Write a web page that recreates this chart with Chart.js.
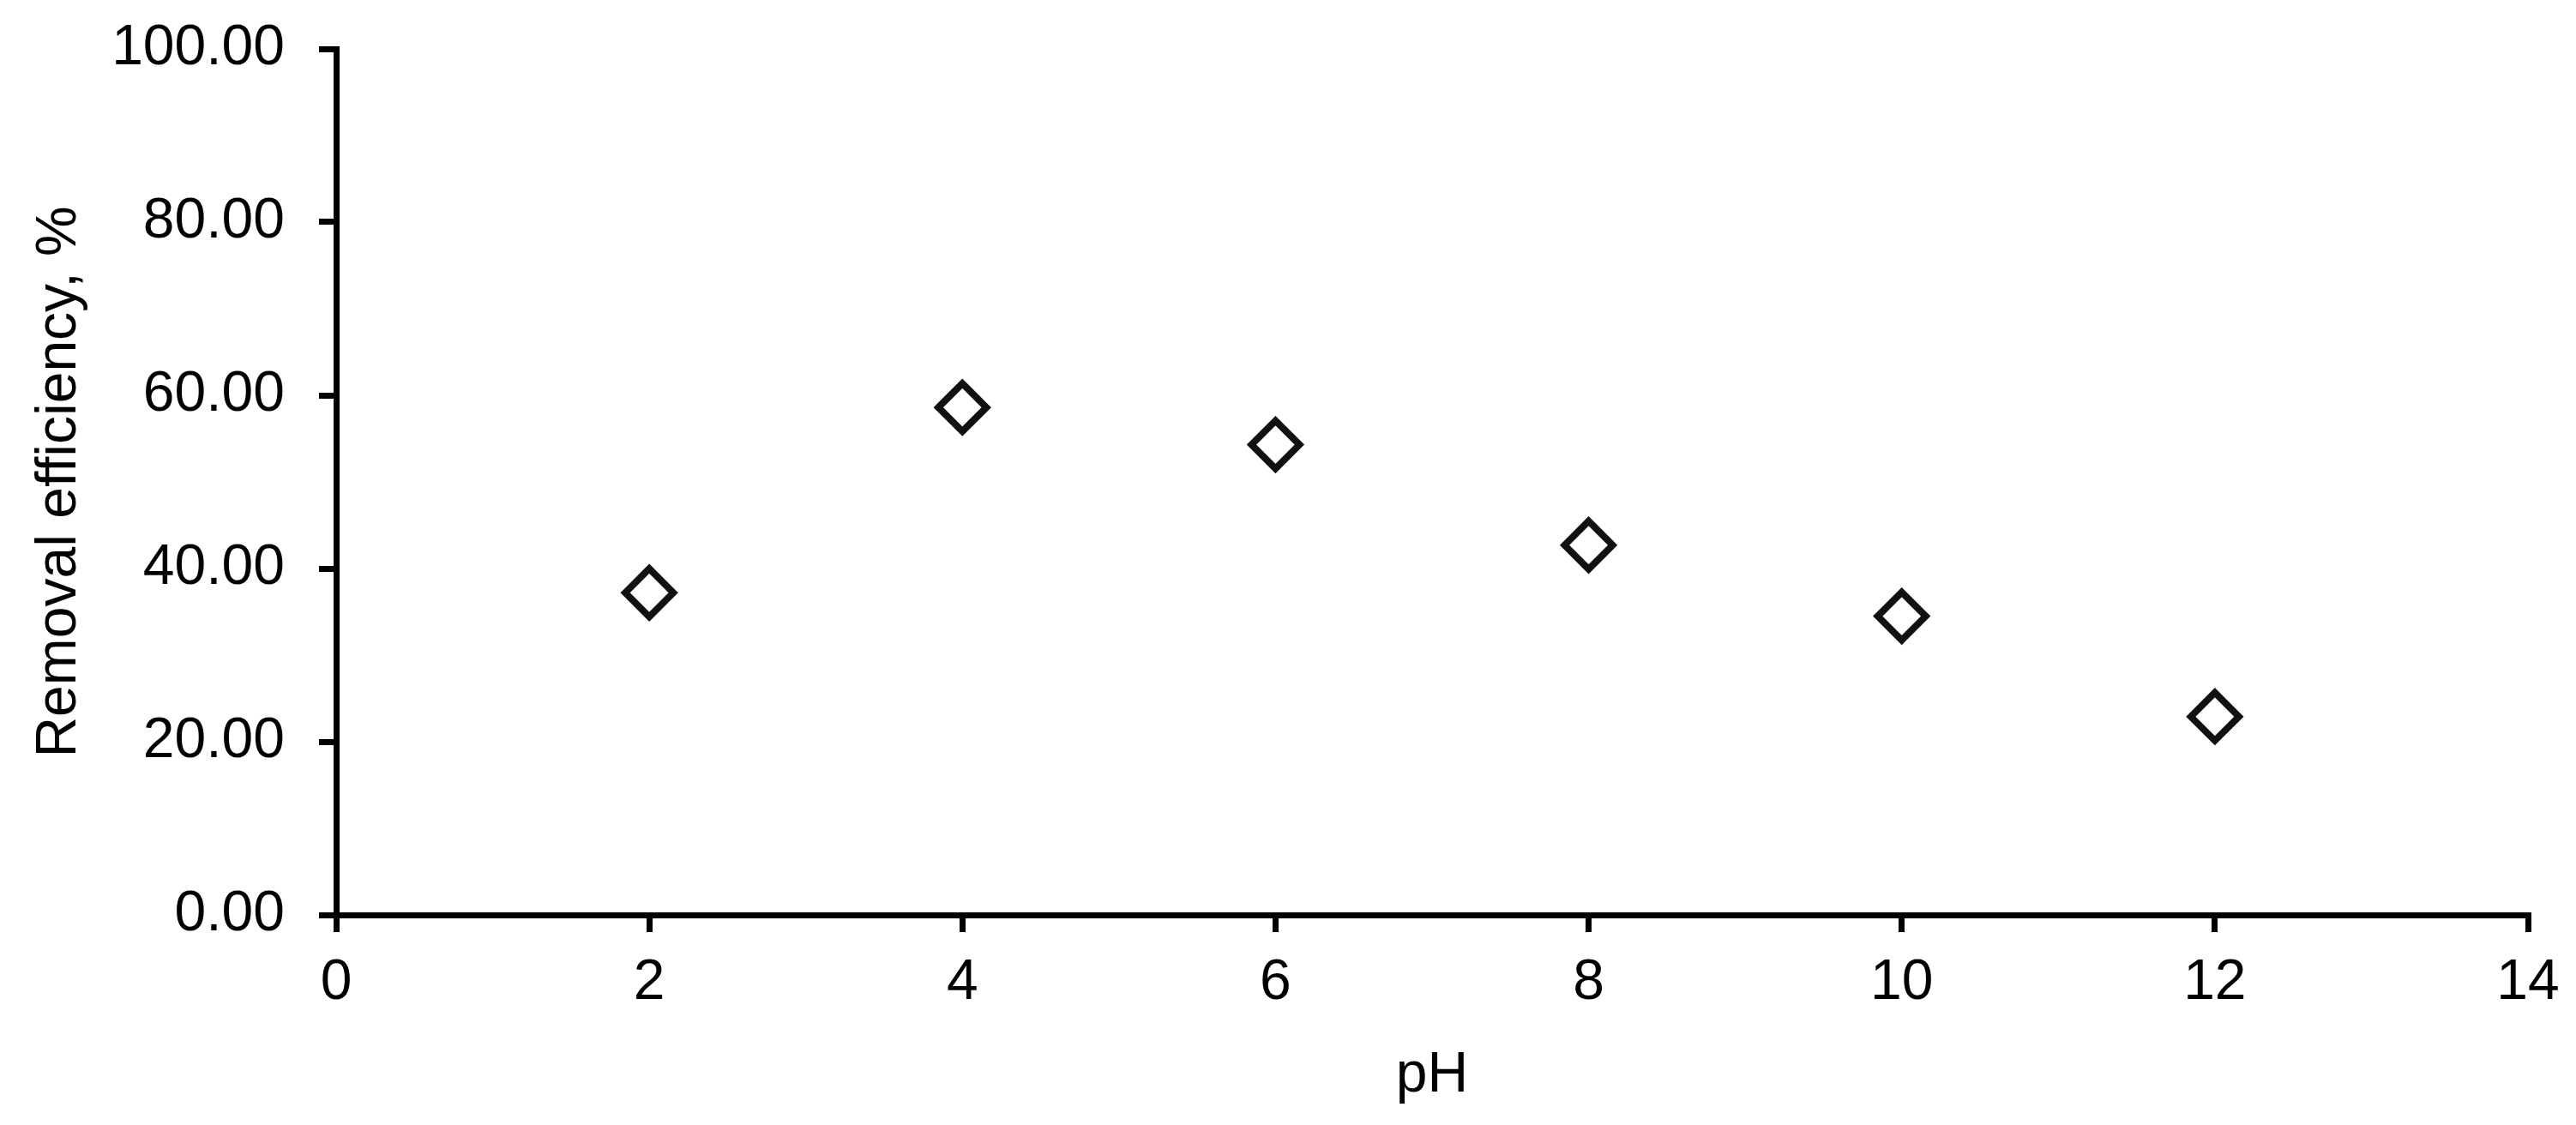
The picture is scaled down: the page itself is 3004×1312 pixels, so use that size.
<!DOCTYPE html>
<html>
<head>
<meta charset="utf-8">
<script src="https://cdn.jsdelivr.net/npm/chart.js@4"></script>
<style>
	html, body { margin: 0; padding: 0; background: #fff; }
	#wrap { width: 3004px; height: 1312px; }
</style>
</head>
<body>
<div id="wrap"><canvas id="chart" width="3004" height="1312"></canvas></div>
<script>
// pH vs removal efficiency
const ph_values = [2, 4, 6, 8, 10, 12];
const removal_eff = [37.2, 58.6, 54.3, 42.7, 34.5, 22.9];
const x_ticks = [0, 2, 4, 6, 8, 10, 12, 14];
const y_ticks = [0, 20, 40, 60, 80, 100];

const ctx = document.getElementById('chart').getContext('2d');
const FONT = { family: '"Liberation Sans", Arial, sans-serif', size: 66 };

const points = ph_values.map(function (x, i) {
	return { x: x, y: removal_eff[i] };
});

const axis_grid = {
	drawOnChartArea: false,
	drawTicks: true,
	tickLength: 20,
	tickWidth: 7,
	tickColor: '#000',
	color: '#000',
	lineWidth: 7
};

new Chart(ctx, {
	type: 'scatter',
	data: {
		datasets: [{
			label: 'Removal efficiency',
			data: points,
			pointStyle: 'rectRot',
			pointRadius: 28,
			pointBorderWidth: 8,
			pointBorderColor: '#111',
			pointBackgroundColor: '#fff',
			showLine: false
		}]
	},
	options: {
		responsive: false,
		animation: false,
		events: [],
		layout: {
			padding: { left: 10, right: 56, top: 57, bottom: 0 }
		},
		plugins: {
			legend: { display: false },
			tooltip: { enabled: false }
		},
		scales: {
			x: {
				type: 'linear',
				min: 0,
				max: 14,
				afterBuildTicks: function (scale) {
					scale.ticks = x_ticks.map(function (v) { return { value: v }; });
				},
				afterFit: function (scale) {
					scale.height = 1312 - 1067;
					scale.paddingLeft = 0;
					scale.paddingRight = 0;
				},
				ticks: {
					color: '#000',
					font: FONT,
					padding: 20,
					maxRotation: 0
				},
				grid: axis_grid,
				border: { display: true, color: '#000', width: 7 },
				title: {
					display: true,
					text: 'pH',
					color: '#000',
					font: FONT,
					padding: { top: 0, bottom: 18 }
				}
			},
			y: {
				type: 'linear',
				min: 0,
				max: 100,
				afterBuildTicks: function (scale) {
					scale.ticks = y_ticks.map(function (v) { return { value: v }; });
				},
				afterFit: function (scale) {
					scale.width = 392 - 10;
					scale.paddingTop = 0;
					scale.paddingBottom = 0;
				},
				ticks: {
					color: '#000',
					font: FONT,
					padding: 40,
					callback: function (v) { return Number(v).toFixed(2); }
				},
				grid: axis_grid,
				border: { display: true, color: '#000', width: 7 },
				title: {
					display: true,
					text: 'Removal efficiency, %',
					color: '#000',
					font: FONT,
					padding: { top: 20, bottom: 0 }
				}
			}
		}
	}
});
</script>
</body>
</html>
